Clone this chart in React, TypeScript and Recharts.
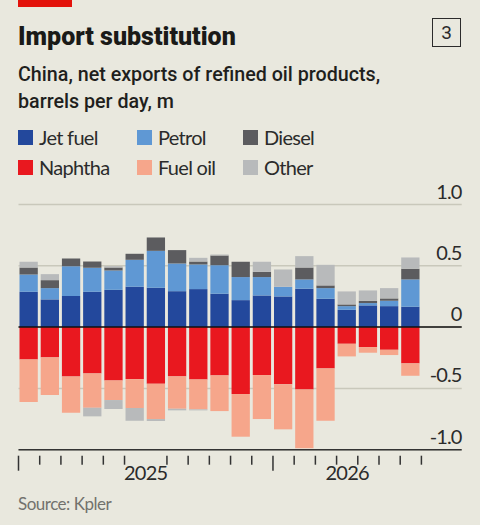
import React from 'react';
import { BarChart, Bar, XAxis, YAxis, CartesianGrid, ReferenceLine } from 'recharts';

const months = [
  '2025-01', '2025-02', '2025-03', '2025-04', '2025-05', '2025-06', '2025-07', '2025-08', '2025-09', '2025-10',
  '2025-11', '2025-12', '2026-01', '2026-02', '2026-03', '2026-04', '2026-05', '2026-06', '2026-07',
];

const jetFuel = [0.288, 0.226, 0.253, 0.288, 0.304, 0.329, 0.321, 0.293, 0.31, 0.272, 0.22, 0.258, 0.25, 0.313, 0.231, 0.141, 0.177, 0.171, 0.166];
const petrol = [0.141, 0.092, 0.244, 0.196, 0.158, 0.22, 0.301, 0.226, 0.201, 0.233, 0.188, 0.15, 0.079, 0.076, 0.087, 0.03, 0.019, 0.044, 0.223];
const diesel = [0.057, 0.065, 0.063, 0.051, 0.024, 0.049, 0.109, 0.109, 0.024, 0.079, 0.125, 0.043, 0, 0.097, 0.022, 0.014, 0.019, 0.019, 0.087];
const otherUp = [0.047, 0.049, 0, 0, 0.011, 0, 0, 0, 0.03, 0.008, 0, 0.082, 0.141, 0.093, 0.168, 0.106, 0.084, 0.084, 0.092];
const naphtha = [-0.264, -0.247, -0.402, -0.378, -0.435, -0.424, -0.462, -0.402, -0.427, -0.394, -0.546, -0.391, -0.467, -0.508, -0.337, -0.136, -0.163, -0.185, -0.296];
const fuelOil = [-0.347, -0.307, -0.296, -0.28, -0.16, -0.236, -0.288, -0.264, -0.244, -0.291, -0.348, -0.359, -0.367, -0.481, -0.427, -0.103, -0.046, -0.043, -0.101];
const otherDown = [0, 0, 0, -0.07, -0.073, -0.104, -0.016, -0.013, -0.008, 0, 0, 0, 0, 0, 0, 0, 0, 0, 0];

const yTicks = [-1, -0.5, 0, 0.5, 1];
const yTickLabels = ['-1.0', '-0.5', '0', '0.5', '1.0'];
const monthTicks = [0, 1, 2, 3, 4, 5, 6, 7, 8, 9, 10, 11, 12, 13, 14, 15, 15.5, 16, 17, 18, 19];
const yearStarts = [0, 12];
const yearLabels = [
  { at: 6, label: '2025' },
  { at: 15.5, label: '2026' },
];

const legendRows = [
  [
    { name: 'Jet fuel', color: '#23489c' },
    { name: 'Petrol', color: '#5f98d4' },
    { name: 'Diesel', color: '#5c5c5f' },
  ],
  [
    { name: 'Naphtha', color: '#e9181f' },
    { name: 'Fuel oil', color: '#f6a68b' },
    { name: 'Other', color: '#b8babb' },
  ],
];
const legendX = [18, 137, 243];

const data = months.map((month, i) => ({
  month,
  pos: i + 0.5,
  jetFuel: jetFuel[i],
  petrol: petrol[i],
  diesel: diesel[i],
  otherUp: otherUp[i],
  naphtha: naphtha[i],
  fuelOil: fuelOil[i],
  otherDown: otherDown[i],
}));

const font = 'Lato, Roboto, sans-serif';
const ink = '#2b2b2b';

const YTick = ({ y, payload }: any) => (
  <text x={461.5} y={y - 6} textAnchor="end" fontFamily={font} fontSize={20} letterSpacing={-0.9} fill={ink}>
    {yTickLabels[yTicks.indexOf(payload.value)]}
  </text>
);

const MonthTick = ({ x, y, payload }: any) => {
  const year = yearLabels.find(l => l.at === payload.value);
  if (year) {
    return (
      <text x={x} y={y + 24} textAnchor="middle" fontFamily={font} fontSize={20} letterSpacing={-0.7} fill={ink}>
        {year.label}
      </text>
    );
  }
  const long = yearStarts.includes(payload.value);
  return <line x1={x} x2={x} y1={y} y2={y + (long ? 15 : 9)} stroke="#333" strokeWidth={1.5} />;
};

const App: React.FC = () => (
  <div style={{ position: 'absolute', left: 0, top: 0, width: 480, height: 525, background: '#e9e8de', overflow: 'hidden', fontFamily: font, color: ink }}>
    <div style={{ position: 'absolute', left: 18, top: 0, width: 54, height: 7, background: '#e3120b' }} />
    <div style={{ position: 'absolute', left: 18, top: 21, fontFamily: 'Roboto, sans-serif', fontWeight: 900, fontSize: 25, lineHeight: '32px', color: '#1a1a18', whiteSpace: 'nowrap' }}>
      Import substitution
    </div>
    <div style={{ position: 'absolute', left: 432, top: 18, width: 27, height: 27, border: '1.5px solid #2b2b2b', textAlign: 'center', lineHeight: '27px', fontFamily: 'Roboto, sans-serif', fontSize: 19 }}>
      3
    </div>
    <div style={{ position: 'absolute', left: 18, top: 61, fontFamily: 'Roboto, sans-serif', fontWeight: 500, fontSize: 19.7, lineHeight: '27px', color: '#1f1f1d', whiteSpace: 'nowrap' }}>
      China, net exports of refined oil products,
      <br />
      barrels per day, m
    </div>
    {legendRows.map((row, r) =>
      row.map((item, c) => (
        <div key={item.name} style={{ position: 'absolute', left: legendX[c], top: 125 + r * 30, height: 24, whiteSpace: 'nowrap', fontSize: 20, lineHeight: '24px', letterSpacing: -0.7 }}>
          <span style={{ position: 'absolute', left: 0, top: 5, width: 15, height: 15, background: item.color }} />
          <span style={{ position: 'absolute', left: 21, top: 0 }}>{item.name}</span>
        </div>
      )),
    )}
    <div style={{ position: 'absolute', left: 0, top: 0 }}>
      <BarChart
        width={480}
        height={525}
        data={data}
        stackOffset="sign"
        margin={{ top: 204.5, right: 17.3, bottom: 0, left: 18.5 }}
      >
        <CartesianGrid vertical={false} stroke="#c9c8bb" strokeWidth={1.5} />
        <XAxis
          dataKey="pos"
          type="number"
          domain={[0, 20.9]}
          ticks={monthTicks}
          interval={0}
          height={75.3}
          axisLine={{ stroke: '#333', strokeWidth: 1.5 }}
          tickLine={false}
          tick={MonthTick}
          tickMargin={0}
        />
        <YAxis
          orientation="right"
          width={1}
          domain={[-1, 1]}
          ticks={yTicks}
          interval={0}
          axisLine={false}
          tickLine={false}
          tick={YTick}
          tickMargin={0}
        />
        <Bar dataKey="jetFuel" stackId="a" fill="#23489c" barSize={18.3} isAnimationActive={false} />
        <Bar dataKey="petrol" stackId="a" fill="#5f98d4" barSize={18.3} isAnimationActive={false} />
        <Bar dataKey="diesel" stackId="a" fill="#5c5c5f" barSize={18.3} isAnimationActive={false} />
        <Bar dataKey="otherUp" stackId="a" fill="#b8babb" barSize={18.3} isAnimationActive={false} />
        <Bar dataKey="naphtha" stackId="a" fill="#e9181f" barSize={18.3} isAnimationActive={false} />
        <Bar dataKey="fuelOil" stackId="a" fill="#f6a68b" barSize={18.3} isAnimationActive={false} />
        <Bar dataKey="otherDown" stackId="a" fill="#b8babb" barSize={18.3} isAnimationActive={false} />
        <ReferenceLine y={0} stroke="#111" strokeWidth={1.5} />
      </BarChart>
    </div>
    <div style={{ position: 'absolute', left: 18, top: 493, fontSize: 17, lineHeight: '22px', letterSpacing: -0.5, color: '#72726d', whiteSpace: 'nowrap' }}>
      Source: Kpler
    </div>
  </div>
);

export default App;
